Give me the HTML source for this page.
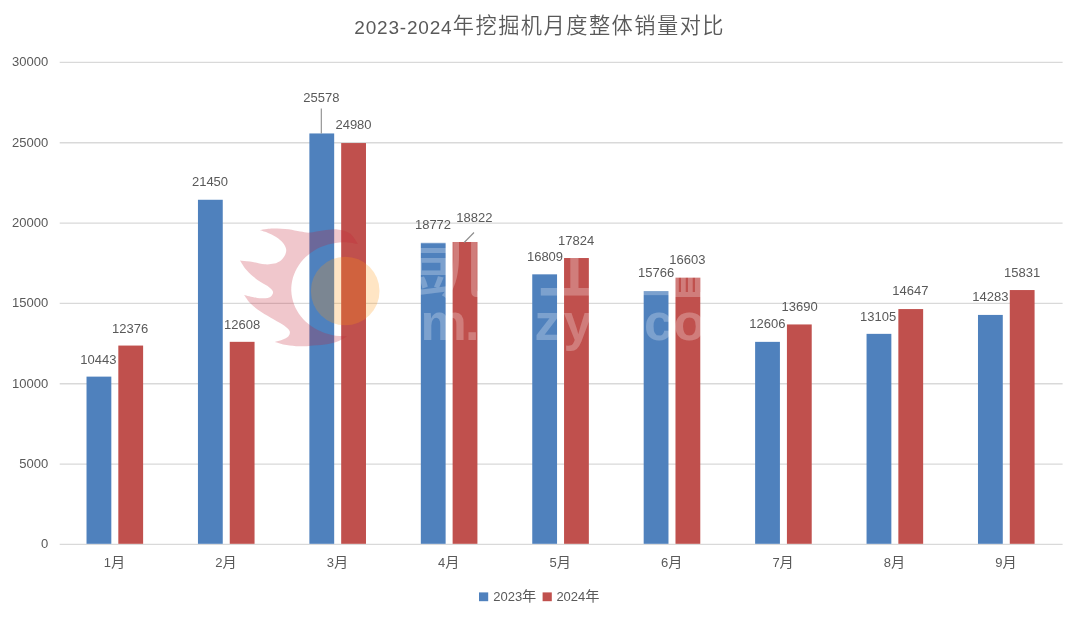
<!DOCTYPE html>
<html lang="zh-CN"><head><meta charset="utf-8"><title>2023-2024年挖掘机月度整体销量对比</title>
<style>html,body{margin:0;padding:0;background:#fff;}body{width:1080px;height:621px;overflow:hidden;}svg{display:block;}
text{font-family:"Liberation Sans","Noto Sans CJK SC",sans-serif;fill:#595959;}
.ax{font-size:13px;}.dl{font-size:13px;}.ttl{font-size:20.7px;font-weight:300;}.lg{font-size:13px;}
</style></head><body>
<svg width="1080" height="621" viewBox="0 0 1080 621">
<rect width="1080" height="621" fill="#ffffff"/>
<text class="ttl" x="354.3" y="33.7"><tspan font-size="19px" letter-spacing="0.8px">2023-2024</tspan><tspan font-size="21.2px" letter-spacing="1.5px" font-weight="350" dx="0.4" dy="-0.5">年挖掘机月度整体销量对比</tspan></text>
<g stroke="#d9d9d9" stroke-width="1.3">
<line x1="59.7" y1="544.40" x2="1062.6" y2="544.40"/>
<line x1="59.7" y1="464.07" x2="1062.6" y2="464.07"/>
<line x1="59.7" y1="383.73" x2="1062.6" y2="383.73"/>
<line x1="59.7" y1="303.40" x2="1062.6" y2="303.40"/>
<line x1="59.7" y1="223.07" x2="1062.6" y2="223.07"/>
<line x1="59.7" y1="142.73" x2="1062.6" y2="142.73"/>
<line x1="59.7" y1="62.40" x2="1062.6" y2="62.40"/>
</g>
<g class="ax" text-anchor="end">
<text x="48.2" y="548.30">0</text>
<text x="48.2" y="467.97">5000</text>
<text x="48.2" y="387.63">10000</text>
<text x="48.2" y="307.30">15000</text>
<text x="48.2" y="226.97">20000</text>
<text x="48.2" y="146.63">25000</text>
<text x="48.2" y="66.30">30000</text>
</g>

<g>
<rect x="86.52" y="376.62" width="24.80" height="167.18" fill="#4f81bd"/>
<rect x="118.32" y="345.56" width="24.80" height="198.24" fill="#c0504d"/>
<rect x="197.95" y="199.77" width="24.80" height="344.03" fill="#4f81bd"/>
<rect x="229.75" y="341.83" width="24.80" height="201.97" fill="#c0504d"/>
<rect x="309.38" y="133.45" width="24.80" height="410.35" fill="#4f81bd"/>
<rect x="341.18" y="143.05" width="24.80" height="400.75" fill="#c0504d"/>
<rect x="420.82" y="242.80" width="24.80" height="301.00" fill="#4f81bd"/>
<rect x="452.62" y="241.99" width="24.80" height="301.81" fill="#c0504d"/>
<rect x="532.25" y="274.34" width="24.80" height="269.46" fill="#4f81bd"/>
<rect x="564.05" y="258.03" width="24.80" height="285.77" fill="#c0504d"/>
<rect x="643.68" y="291.09" width="24.80" height="252.71" fill="#4f81bd"/>
<rect x="675.48" y="277.65" width="24.80" height="266.15" fill="#c0504d"/>
<rect x="755.12" y="341.86" width="24.80" height="201.94" fill="#4f81bd"/>
<rect x="786.92" y="324.45" width="24.80" height="219.35" fill="#c0504d"/>
<rect x="866.55" y="333.85" width="24.80" height="209.95" fill="#4f81bd"/>
<rect x="898.35" y="309.07" width="24.80" height="234.73" fill="#c0504d"/>
<rect x="977.98" y="314.92" width="24.80" height="228.88" fill="#4f81bd"/>
<rect x="1009.78" y="290.05" width="24.80" height="253.75" fill="#c0504d"/>
</g>
<g id="wm">
<path d="M259.7 230.0C260.9 229.8 264.6 229.2 267.0 228.9C269.4 228.7 270.6 228.4 274.2 228.5C277.8 228.6 284.3 228.8 288.6 229.3C292.9 229.8 296.6 231.1 300.2 231.6C303.8 232.1 306.2 232.8 310.0 232.6C313.8 232.4 318.4 231.1 323.0 230.6C327.6 230.1 333.0 229.0 337.5 229.5C342.0 230.0 346.6 231.1 350.0 233.5C353.4 235.9 356.7 242.2 358.0 244.0C356.8 243.8 353.0 242.9 350.5 242.7C348.0 242.4 345.5 242.3 342.9 242.3C340.4 242.4 337.9 242.6 335.4 242.9C332.9 243.3 330.4 243.8 328.0 244.5C325.6 245.2 323.2 246.1 320.9 247.1C318.6 248.0 316.4 249.2 314.3 250.5C312.2 251.7 310.2 253.1 308.4 254.7C306.5 256.2 304.7 257.9 303.2 259.6C301.6 261.4 300.1 263.2 298.8 265.2C297.5 267.1 296.3 269.1 295.4 271.2C294.4 273.3 293.6 275.5 292.9 277.7C292.3 279.8 291.9 282.1 291.6 284.3C291.3 286.6 291.2 288.9 291.3 291.1C291.4 293.4 291.7 295.6 292.2 297.9C292.6 300.1 293.3 302.3 294.1 304.4C294.9 306.6 295.9 308.7 297.1 310.7C298.2 312.7 299.5 314.6 301.0 316.5C302.5 318.3 304.1 320.1 305.8 321.7C307.6 323.3 309.5 324.9 311.5 326.3C313.5 327.7 315.6 328.9 317.8 330.1C320.0 331.2 322.3 332.2 324.6 333.0C327.0 333.8 329.4 334.5 331.9 335.0C334.3 335.6 336.9 335.9 339.4 336.1C341.9 336.3 345.7 336.2 347.0 336.2C345.4 337.1 341.2 340.1 337.5 341.5C333.8 342.9 329.7 343.9 325.0 344.6C320.3 345.3 313.4 345.6 309.1 345.9C304.8 346.2 302.8 346.4 299.0 346.3C295.2 346.2 290.5 345.7 286.5 345.0C282.5 344.3 276.8 342.4 274.9 341.9C276.1 341.5 280.0 340.8 282.3 339.8C284.6 338.9 287.3 337.7 288.5 336.2C289.7 334.7 290.3 332.7 289.6 331.0C288.9 329.3 287.0 327.7 284.4 325.8C281.8 323.9 277.8 321.8 273.9 319.5C270.0 317.2 265.1 314.7 261.3 312.1C257.5 309.5 253.7 306.7 250.8 303.8C247.9 300.9 245.2 296.5 244.1 295.0C246.3 295.5 253.2 297.4 257.1 297.9C261.0 298.4 265.2 298.3 267.6 297.9C270.1 297.5 270.9 296.5 271.8 295.4C272.7 294.3 273.5 292.8 272.8 291.2C272.1 289.6 270.2 287.9 267.6 286.0C265.0 284.1 260.6 282.3 257.1 279.7C253.6 277.1 249.5 273.5 246.7 270.3C243.8 267.1 241.1 262.0 240.0 260.4C241.7 260.6 245.9 261.0 250.0 261.6C254.1 262.2 260.5 264.0 264.5 264.3C268.5 264.6 271.5 264.2 274.2 263.6C276.9 263.0 279.1 261.7 280.9 260.4C282.7 259.1 283.9 257.4 284.8 255.6C285.7 253.8 286.4 251.7 286.2 249.8C286.0 247.9 285.2 245.9 283.8 244.0C282.4 242.1 280.4 240.0 278.0 238.2C275.6 236.4 272.4 234.8 269.3 233.4C266.2 232.0 261.3 230.6 259.7 230.0Z" fill="#c31e32" fill-opacity="0.25"/>
<circle cx="345.2" cy="291" r="34.3" fill="#ff9614" fill-opacity="0.25"/>
<g fill="#ffffff" fill-opacity="0.26" font-weight="900" style="font-family:'Liberation Sans','Noto Sans CJK SC',sans-serif">
<text x="409" y="291" font-size="80px" font-weight="400" style="fill:#fff">凱</text>
<text x="537" y="291.5" font-size="80px" font-weight="500" style="fill:#fff">上</text>
<text x="670" y="294.8" font-size="34px" font-weight="900" style="fill:#fff">皿</text>
<text x="640" y="304.5" font-size="32px" font-weight="900" style="fill:#fff">一</text>
<g font-size="52px" font-weight="700"><text x="420.5" y="339.5" style="fill:#fff">m</text><text x="465.0" y="339.5" style="fill:#fff">.</text><text x="534.5" y="339.5" style="fill:#fff">z</text><text x="563.5" y="339.5" style="fill:#fff">y</text><text x="644.0" y="339.5" style="fill:#fff">c</text><text x="673.5" y="339.5" style="fill:#fff">o</text></g>
</g>
</g>
<g stroke="#8c8c8c" stroke-width="1.1" fill="none">
<line x1="321.3" y1="108.5" x2="321.3" y2="133.5"/>
<line x1="474" y1="232.5" x2="464.2" y2="242.5"/>
</g>
<g class="dl" text-anchor="middle">
<text x="98.3" y="363.9">10443</text>
<text x="130.2" y="332.5">12376</text>
<text x="210.0" y="186.2">21450</text>
<text x="242.2" y="328.7">12608</text>
<text x="321.3" y="101.7">25578</text>
<text x="353.5" y="129.0">24980</text>
<text x="433.0" y="228.9">18772</text>
<text x="474.4" y="222.2">18822</text>
<text x="545.0" y="260.9">16809</text>
<text x="576.1" y="244.7">17824</text>
<text x="656.2" y="277.3">15766</text>
<text x="687.3" y="264.0">16603</text>
<text x="767.3" y="328.1">12606</text>
<text x="799.6" y="310.7">13690</text>
<text x="878.2" y="320.7">13105</text>
<text x="910.3" y="295.3">14647</text>
<text x="990.3" y="301.3">14283</text>
<text x="1022.2" y="276.5">15831</text>
</g>
<g class="ax" text-anchor="middle">
<text x="114.5" y="566.5">1<tspan font-size="14.2px" dy="0.2">月</tspan></text>
<text x="225.9" y="566.5">2<tspan font-size="14.2px" dy="0.2">月</tspan></text>
<text x="337.4" y="566.5">3<tspan font-size="14.2px" dy="0.2">月</tspan></text>
<text x="448.8" y="566.5">4<tspan font-size="14.2px" dy="0.2">月</tspan></text>
<text x="560.2" y="566.5">5<tspan font-size="14.2px" dy="0.2">月</tspan></text>
<text x="671.7" y="566.5">6<tspan font-size="14.2px" dy="0.2">月</tspan></text>
<text x="783.1" y="566.5">7<tspan font-size="14.2px" dy="0.2">月</tspan></text>
<text x="894.5" y="566.5">8<tspan font-size="14.2px" dy="0.2">月</tspan></text>
<text x="1006.0" y="566.5">9<tspan font-size="14.2px" dy="0.2">月</tspan></text>
</g>
<rect x="479" y="592.4" width="9.2" height="8.8" fill="#4f81bd"/>
<text class="lg" x="493.2" y="601.2">2023<tspan font-size="14.2px" dy="-0.4">年</tspan></text>
<rect x="542.6" y="592.4" width="9.2" height="8.8" fill="#c0504d"/>
<text class="lg" x="556.4" y="601.2">2024<tspan font-size="14.2px" dy="-0.4">年</tspan></text>
</svg></body></html>
